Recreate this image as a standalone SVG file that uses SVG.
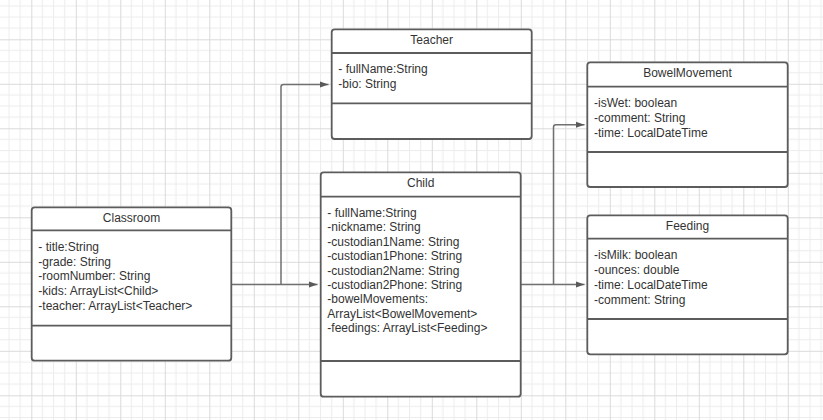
<svg xmlns="http://www.w3.org/2000/svg" width="823" height="420" viewBox="0 0 823 420">
<style>
.box{fill:#fff;stroke:#5c5c5c;stroke-width:1.8}
.div{stroke:#5c5c5c;stroke-width:1.8}
.t{font-family:"Liberation Sans",Arial,sans-serif;font-size:12px;fill:#333}
.c{text-anchor:middle}
.con{fill:none;stroke:#707070;stroke-width:1.5}
</style>
<defs>
<pattern id="grid" x="31.3" y="39.3" width="44.5" height="44.5" patternUnits="userSpaceOnUse">
<path d="M11.125 0V44.5M22.25 0V44.5M33.375 0V44.5M0 11.125H44.5M0 22.25H44.5M0 33.375H44.5" stroke="#ececec" stroke-width="1" fill="none"/>
<path d="M0.5 0V44.5M0 0.5H44.5" stroke="#dadada" stroke-width="1" fill="none"/>
</pattern>
<marker id="arr" markerUnits="userSpaceOnUse" markerWidth="10" markerHeight="8" refX="9" refY="4" orient="auto">
<path d="M0 0.8L9 4L0 7.2Z" fill="#5a5a5a"/>
</marker>
</defs>
<rect width="823" height="420" fill="#fff"/>
<rect width="823" height="420" fill="url(#grid)"/>
<g id="connectors">
<path class="con" d="M231.3 284.5H317.5" marker-end="url(#arr)"/>
<path class="con" d="M281 284.5V87Q281 84.5 283.5 84.5H328.5" marker-end="url(#arr)"/>
<path class="con" d="M520.7 284.5H584.5" marker-end="url(#arr)"/>
<path class="con" d="M553.5 284.5V127.2Q553.5 124.7 556 124.7H584.5" marker-end="url(#arr)"/>
</g>
<g id="classroom">
<rect class="box" x="31.7" y="207.3" width="199.6" height="153.4" rx="3"/>
<line class="div" x1="31.7" y1="230.3" x2="231.3" y2="230.3"/>
<line class="div" x1="31.7" y1="325.7" x2="231.3" y2="325.7"/>
<text class="t c" x="131.5" y="222">Classroom</text>
<text class="t" x="38.3" y="251">- title:String</text>
<text class="t" x="38.3" y="265.7">-grade: String</text>
<text class="t" x="38.3" y="280.4">-roomNumber: String</text>
<text class="t" x="38.3" y="295">-kids: ArrayList&lt;Child&gt;</text>
<text class="t" x="38.3" y="309.7">-teacher: ArrayList&lt;Teacher&gt;</text>
</g>
<g id="teacher">
<rect class="box" x="331.7" y="29.3" width="200" height="109.7" rx="3"/>
<line class="div" x1="331.7" y1="53" x2="531.7" y2="53"/>
<line class="div" x1="331.7" y1="103.3" x2="531.7" y2="103.3"/>
<text class="t c" x="431.7" y="43.5">Teacher</text>
<text class="t" x="338.3" y="73">- fullName:String</text>
<text class="t" x="338.3" y="87.5">-bio: String</text>
</g>
<g id="child">
<rect class="box" x="320.7" y="172.3" width="200" height="224.4" rx="3"/>
<line class="div" x1="320.7" y1="196.7" x2="520.7" y2="196.7"/>
<line class="div" x1="320.7" y1="361" x2="520.7" y2="361"/>
<text class="t c" x="420.7" y="186.5">Child</text>
<text class="t" x="327.3" y="216.7">- fullName:String</text>
<text class="t" x="327.3" y="231.2">-nickname: String</text>
<text class="t" x="327.3" y="245.6">-custodian1Name: String</text>
<text class="t" x="327.3" y="260.1">-custodian1Phone: String</text>
<text class="t" x="327.3" y="274.5">-custodian2Name: String</text>
<text class="t" x="327.3" y="289">-custodian2Phone: String</text>
<text class="t" x="327.3" y="303.4">-bowelMovements:</text>
<text class="t" x="327.3" y="317.9">ArrayList&lt;BowelMovement&gt;</text>
<text class="t" x="327.3" y="332.3">-feedings: ArrayList&lt;Feeding&gt;</text>
</g>
<g id="bowelmovement">
<rect class="box" x="587.3" y="62.3" width="200.4" height="124.7" rx="3"/>
<line class="div" x1="587.3" y1="86.7" x2="787.7" y2="86.7"/>
<line class="div" x1="587.3" y1="152" x2="787.7" y2="152"/>
<text class="t c" x="687.5" y="76.7">BowelMovement</text>
<text class="t" x="594" y="106.7">-isWet: boolean</text>
<text class="t" x="594" y="121.7">-comment: String</text>
<text class="t" x="594" y="136.7">-time: LocalDateTime</text>
</g>
<g id="feeding">
<rect class="box" x="587.3" y="215.3" width="200.4" height="139" rx="3"/>
<line class="div" x1="587.3" y1="238.7" x2="787.7" y2="238.7"/>
<line class="div" x1="587.3" y1="319" x2="787.7" y2="319"/>
<text class="t c" x="687.5" y="230">Feeding</text>
<text class="t" x="594" y="258.7">-isMilk: boolean</text>
<text class="t" x="594" y="273.7">-ounces: double</text>
<text class="t" x="594" y="289">-time: LocalDateTime</text>
<text class="t" x="594" y="304">-comment: String</text>
</g>
</svg>
